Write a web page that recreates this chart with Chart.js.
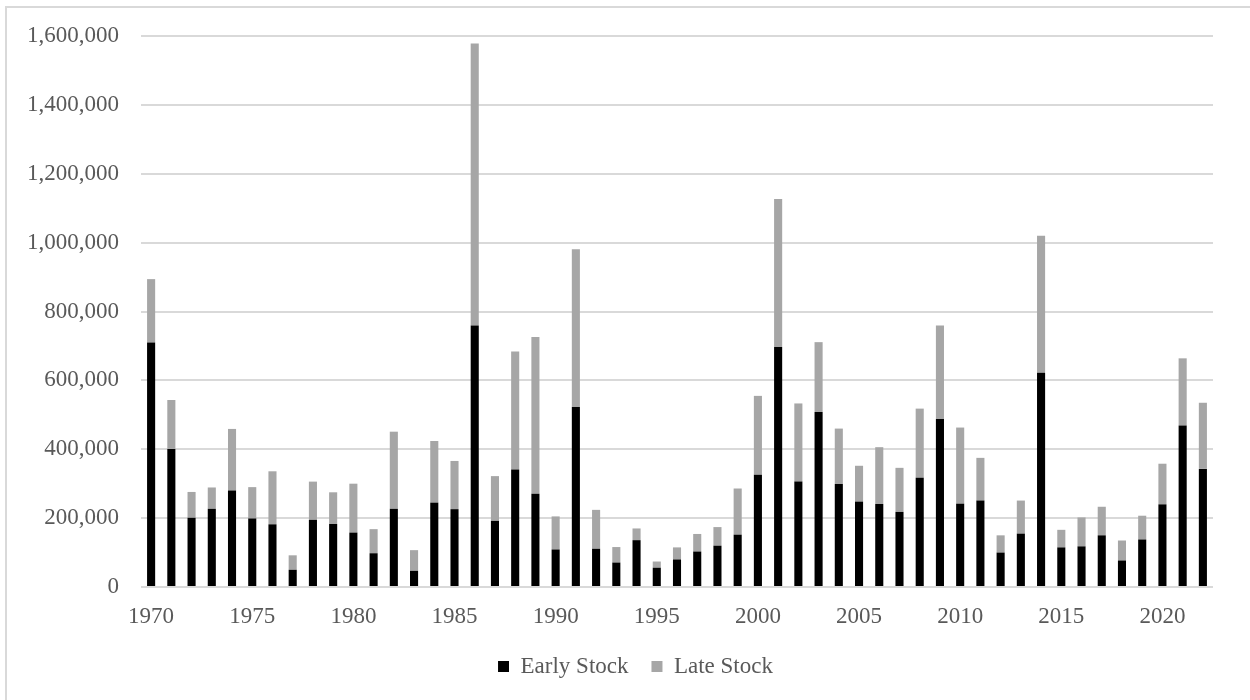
<!DOCTYPE html>
<html>
<head>
<meta charset="utf-8">
<script src="https://cdn.jsdelivr.net/npm/chart.js@4/dist/chart.umd.min.js"></script>
<style>
  html, body { margin: 0; padding: 0; background: #fff; }
  #wrap { position: relative; width: 1250px; height: 700px; overflow: hidden; }
  #stockChart { position: absolute; left: 0; top: 0; }
  .frame {
    position: absolute; left: 5px; top: 6px; width: 1260px; height: 710px;
    border: 2px solid #d9d9d9; pointer-events: none;
  }
</style>
</head>
<body>
<div id="wrap">
  <canvas id="stockChart" width="1250" height="700"></canvas>
  <div class="frame"></div>
</div>
<script>
const years = [];
for (let y = 1970; y <= 2022; y++) years.push(String(y));

const earlyStock = [
  710000, 401000, 201000, 227000, 280000, 199000, 182000, 50000, 195000, 183000,
  158000, 98000, 227000, 47000, 245000, 226000, 759000, 192000, 341000, 271000,
  109000, 523000, 111000, 71000, 136000, 56000, 80000, 103000, 120000, 152000,
  326000, 697000, 306000, 508000, 299000, 248000, 241000, 218000, 317000, 488000,
  242000, 251000, 100000, 155000, 622000, 115000, 118000, 150000, 77000, 138000,
  240000, 469000, 343000
];

const lateStock = [
  184000, 142000, 75000, 62000, 179000, 91000, 154000, 42000, 111000, 92000,
  142000, 70000, 224000, 60000, 179000, 140000, 819000, 130000, 343000, 455000,
  96000, 458000, 113000, 45000, 34000, 18000, 35000, 51000, 54000, 134000,
  229000, 430000, 227000, 203000, 161000, 104000, 165000, 128000, 201000, 271000,
  221000, 124000, 50000, 96000, 398000, 51000, 84000, 83000, 58000, 69000,
  118000, 195000, 192000
];

const yTicks = [0, 200000, 400000, 600000, 800000, 1000000, 1200000, 1400000, 1600000];

const textColor = "#595959";
const gridColor = "#d9d9d9";
const serif = "'Liberation Serif', 'Times New Roman', serif";

// legend sits a bit right of the plot centre in the original
const shiftLegend = {
  id: "shiftLegend",
  afterLayout(chart) {
    if (chart.legend) chart.legend.left = 58;
  }
};

new Chart(document.getElementById("stockChart"), {
  type: "bar",
  data: {
    labels: years,
    datasets: [{
      label: "Early Stock",
      data: earlyStock,
      backgroundColor: "#000000",
      barPercentage: 0.4,
      categoryPercentage: 1
    }, {
      label: "Late Stock",
      data: lateStock,
      backgroundColor: "#a6a6a6",
      barPercentage: 0.4,
      categoryPercentage: 1
    }]
  },
  options: {
    responsive: false,
    animation: false,
    layout: {
      padding: { left: 0, right: 37, top: 36, bottom: 12 }
    },
    scales: {
      x: {
        stacked: true,
        afterFit: function (scale) { scale.height = 45; },
        grid: { display: false, drawTicks: false },
        border: { display: false },
        ticks: {
          autoSkip: false,
          maxRotation: 0,
          padding: 16,
          color: textColor,
          font: { family: serif, size: 23 },
          callback: function (val, i) {
            return i % 5 === 0 ? years[i] : "";
          }
        }
      },
      y: {
        stacked: true,
        min: 0,
        max: yTicks[yTicks.length - 1],
        afterFit: function (scale) { scale.width = 141; },
        afterBuildTicks: function (scale) {
          scale.ticks = yTicks.map(v => ({ value: v }));
        },
        grid: {
          color: gridColor,
          lineWidth: 2,
          drawTicks: false
        },
        border: { display: false },
        ticks: {
          padding: 22,
          color: textColor,
          font: { family: serif, size: 23 },
          callback: function (val) {
            return Number(val).toLocaleString("en-US");
          }
        }
      }
    },
    plugins: {
      legend: {
        position: "bottom",
        labels: {
          boxWidth: 11,
          boxHeight: 11,
          padding: 23,
          color: textColor,
          font: { family: serif, size: 23 }
        }
      },
      tooltip: { enabled: false }
    }
  },
  plugins: [shiftLegend]
});
</script>
</body>
</html>
